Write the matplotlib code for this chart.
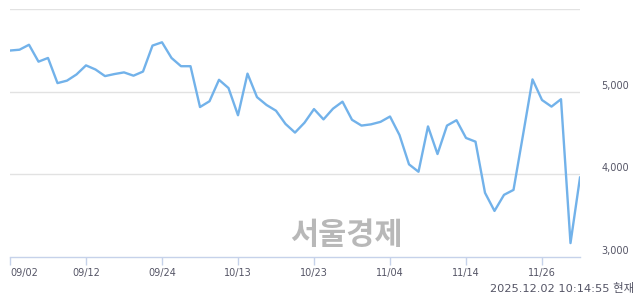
import matplotlib
matplotlib.use("Agg")
import matplotlib.pyplot as plt
import matplotlib.transforms as mtransforms

# closing prices, 61 trading days 09/02 .. 12/02
prices = [5500, 5510, 5570, 5365, 5410, 5105, 5135, 5210, 5320, 5270,
          5190, 5215, 5235, 5195, 5245, 5560, 5600, 5410, 5310, 5310,
          4815, 4885, 5145, 5045, 4715, 5220, 4935, 4840, 4770, 4610,
          4505, 4625, 4790, 4665, 4795, 4880, 4660, 4590, 4605, 4635,
          4700, 4475, 4120, 4030, 4580, 4245, 4590, 4655, 4440, 4395,
          3775, 3555, 3750, 3810, 4475, 5150, 4900, 4820, 4910, 3165,
          3960]
tick_pos = [0, 8, 16, 24, 32, 40, 48, 56]
tick_labels = ["09/02", "09/12", "09/24", "10/13", "10/23", "11/04", "11/14", "11/26"]
y_labels = [3000, 4000, 5000]
stamp = "2025.12.02 10:14:55 현재"

plt.rcParams['font.family'] = ['DejaVu Sans', 'Noto Sans CJK KR']

fig = plt.figure(figsize=(6.4, 2.94), dpi=100)
ax = fig.add_axes([10 / 640, 1 - 256.7 / 294, 570 / 640, 247.4 / 294])

x = list(range(len(prices)))
ax.set_xlim(0, len(prices) - 1)
ax.set_ylim(3000, 6000)

for v in [4000, 5000, 6000]:
    ax.axhline(v, color="#e2e2e2", lw=1, zorder=1)

ax.plot(x, prices, color="#72b2ea", lw=1.7, zorder=3)

for s in ["top", "right", "left"]:
    ax.spines[s].set_visible(False)
ax.spines["bottom"].set_color("#c6d2ea")
ax.spines["bottom"].set_linewidth(1)
ax.set_yticks([])

ax.set_xticks(tick_pos)
ax.set_xticklabels(tick_labels, fontsize=7, color="#555566")
ax.tick_params(axis="x", length=6, width=1, color="#c6d2ea", pad=2)
ax.get_xticklabels()[0].set_horizontalalignment("left")

# y labels on the right, a bit above each gridline
off = mtransforms.offset_copy(ax.get_yaxis_transform(), fig=fig, x=0, y=6, units="dots")
for v in y_labels:
    ax.text(1.086, v, f"{v:,}", transform=off, ha="right", va="center",
            fontsize=7, color="#555566", clip_on=False)

# watermark
fig.text(346 / 640, 1 - 235 / 294, "서울경제", ha="center", va="center",
         fontsize=22, fontweight="bold", color="#b8b8b8",
         family=['Noto Sans CJK KR'], zorder=0)

fig.text(634 / 640, 1 - 288 / 294, stamp, ha="right", va="center",
         fontsize=8.2, color="#555566")

fig.savefig("out.png", dpi=100)
